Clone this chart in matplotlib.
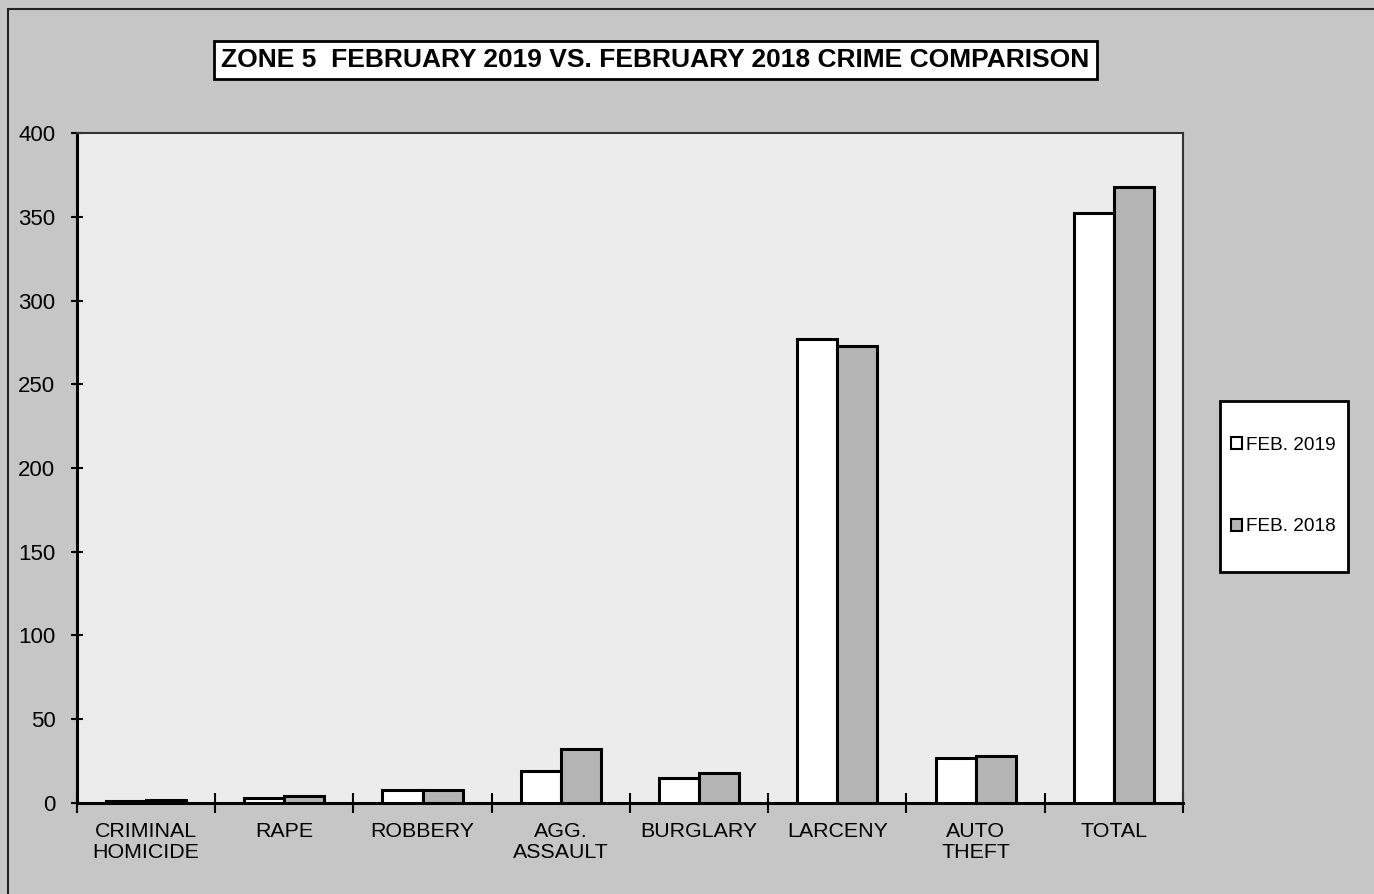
import numpy as np
import matplotlib
matplotlib.use('Agg')
import matplotlib.pyplot as plt
from matplotlib.patches import Rectangle

plt.rcParams['font.family'] = ['Liberation Sans', 'DejaVu Sans']

categories = ['CRIMINAL\nHOMICIDE', 'RAPE', 'ROBBERY', 'AGG.\nASSAULT',
              'BURGLARY', 'LARCENY', 'AUTO\nTHEFT', 'TOTAL']
feb_2019 = [1, 3, 8, 19, 15, 277, 27, 352]
feb_2018 = [2, 4, 8, 32, 18, 273, 28, 368]
series_names = ['FEB. 2019', 'FEB. 2018']

fig = plt.figure(figsize=(13.74, 8.94), dpi=100)
fig.patch.set_facecolor('#c6c6c6')
# outer frame of the scanned chart
fig.add_artist(Rectangle((0.006, -0.01), 1.0, 1.0, transform=fig.transFigure,
                         fill=False, edgecolor='#222222', linewidth=1.5))

ax = fig.add_axes([0.056, 0.1018, 0.805, 0.7494])
ax.set_facecolor('#ececec')

x = np.arange(len(categories))
w = 0.29
ax.bar(x - w / 2, feb_2019, w, color='white', edgecolor='black', linewidth=2.2,
       label=series_names[0], zorder=3)
ax.bar(x + w / 2, feb_2018, w, color='#b4b4b4', edgecolor='black', linewidth=2.2,
       label=series_names[1], zorder=3)

ax.set_xlim(-0.5, len(categories) - 0.5)
ax.set_ylim(0, 400)
ax.set_yticks(np.arange(0, 401, 50))
ax.tick_params(axis='y', labelsize=16, direction='inout', length=9, width=1.5, pad=11)

# category ticks sit between the groups
ax.set_xticks(np.arange(-0.5, len(categories) - 0.4, 1.0))
ax.set_xticklabels([])
ax.set_xticks(x, minor=True)
ax.set_xticklabels(categories, minor=True, fontsize=15.4, linespacing=1.1)
ax.tick_params(axis='x', which='major', direction='inout', length=14, width=1.5)
ax.tick_params(axis='x', which='minor', length=0, pad=14)

for side in ['bottom', 'left']:
    ax.spines[side].set_linewidth(2.2)
for side in ['top', 'right']:
    ax.spines[side].set_linewidth(1.5)
    ax.spines[side].set_color('#333333')

fig.text(0.477, 0.933, 'ZONE 5  FEBRUARY 2019 VS. FEBRUARY 2018 CRIME COMPARISON',
         ha='center', va='center', fontsize=19, fontweight='bold',
         bbox=dict(boxstyle='square,pad=0.27', facecolor='white', edgecolor='black', linewidth=2))

# legend box drawn separately so its padding can differ per direction
fig.add_artist(Rectangle((0.8879, 0.3602), 0.0932, 0.1913, transform=fig.transFigure,
                         facecolor='white', edgecolor='black', linewidth=2, zorder=1))
leg = fig.legend(loc='center', bbox_to_anchor=(0.9338, 0.4564), fontsize=13.7,
                 frameon=False, handlelength=0.6, handleheight=0.6, handletextpad=0.2,
                 labelspacing=3.4, borderpad=0, borderaxespad=0)
leg.set_zorder(2)
for h in leg.legend_handles:
    h.set_linewidth(1.5)

plt.savefig('out.png', dpi=100, facecolor=fig.get_facecolor())
